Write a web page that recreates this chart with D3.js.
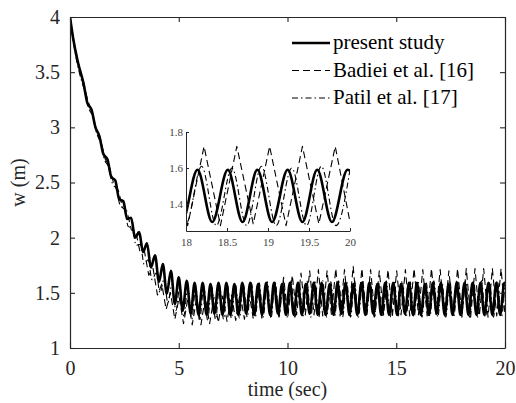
<!DOCTYPE html>
<html>
<head>
<meta charset="utf-8">
<script src="https://cdn.jsdelivr.net/npm/d3@7"></script>
</head>
<body style="margin:0">
<script>

// present study: extrema [t, w]
var presentStudy = [
	[0, 4.0], [0.15, 3.8], [0.35, 3.6],
	[0.62, 3.40], [0.80, 3.22], [0.99, 3.16], [1.17, 3.00], [1.35, 2.92], [1.53, 2.76],
	[1.72, 2.71], [1.90, 2.55], [2.08, 2.52], [2.26, 2.35], [2.45, 2.33], [2.63, 2.17],
	[2.81, 2.18], [2.99, 2.00], [3.18, 2.05], [3.36, 1.87], [3.54, 1.95], [3.72, 1.73],
	[3.91, 1.84], [4.09, 1.60], [4.27, 1.76], [4.45, 1.49], [4.64, 1.70], [4.82, 1.40],
	[5.00, 1.64], [5.18, 1.34], [5.37, 1.61], [5.55, 1.31],
	[5.73, 1.59], [5.91, 1.30], [6.10, 1.59], [6.28, 1.30], [6.46, 1.58], [6.64, 1.31],
	[6.83, 1.59], [7.01, 1.30], [7.19, 1.59], [7.37, 1.30], [7.56, 1.58], [7.74, 1.30],
	[7.92, 1.59], [8.10, 1.31], [8.29, 1.59], [8.47, 1.30], [8.65, 1.58], [8.83, 1.30],
	[9.02, 1.59], [9.20, 1.30], [9.38, 1.59], [9.56, 1.31], [9.75, 1.58], [9.93, 1.30],
	[10.11, 1.59], [10.29, 1.30], [10.48, 1.59], [10.66, 1.30], [10.84, 1.58], [11.02, 1.31],
	[11.21, 1.59], [11.39, 1.30], [11.57, 1.59], [11.75, 1.30], [11.94, 1.58], [12.12, 1.30],
	[12.30, 1.59], [12.48, 1.31], [12.67, 1.59], [12.85, 1.30], [13.03, 1.58], [13.21, 1.30],
	[13.40, 1.59], [13.58, 1.30], [13.76, 1.59], [13.94, 1.31], [14.13, 1.58], [14.31, 1.30],
	[14.49, 1.59], [14.67, 1.30], [14.86, 1.59], [15.04, 1.30], [15.22, 1.58], [15.40, 1.31],
	[15.59, 1.59], [15.77, 1.30], [15.95, 1.59], [16.13, 1.30], [16.32, 1.58], [16.50, 1.30],
	[16.68, 1.59], [16.86, 1.31], [17.05, 1.59], [17.23, 1.30], [17.41, 1.58], [17.59, 1.30],
	[17.78, 1.59], [17.95, 1.30], [18.14, 1.59], [18.32, 1.30], [18.51, 1.59], [18.69, 1.30],
	[18.87, 1.59], [19.05, 1.30], [19.24, 1.59], [19.42, 1.30], [19.60, 1.59], [19.78, 1.30],
	[19.97, 1.59], [20.0, 1.585]
];

// Badiei et al. [16]: corners of the saw-like dashed curve [t, w]
var badiei = [
	[0, 4.0], [0.2, 3.75], [0.42, 3.55],
	[0.62, 3.41], [0.82, 3.24], [1.02, 3.14], [1.22, 2.97], [1.42, 2.88], [1.62, 2.71],
	[1.82, 2.64], [2.02, 2.48], [2.22, 2.43], [2.42, 2.27], [2.62, 2.24], [2.82, 2.07],
	[3.02, 2.06], [3.22, 1.87], [3.42, 1.88], [3.62, 1.66], [3.82, 1.72], [4.02, 1.48],
	[4.22, 1.58], [4.42, 1.35], [4.62, 1.50], [4.82, 1.26], [5.02, 1.46], [5.22, 1.22],
	[5.42, 1.45], [5.62, 1.21], [5.82, 1.45], [6.02, 1.21], [6.22, 1.46], [6.42, 1.22],
	[6.62, 1.46], [6.82, 1.23], [7.02, 1.47], [7.22, 1.24], [7.42, 1.48], [7.62, 1.25],
	[7.82, 1.50], [8.02, 1.26], [8.22, 1.52], [8.42, 1.27], [8.62, 1.55], [8.82, 1.27],
	[9.02, 1.58], [9.22, 1.28], [9.42, 1.61], [9.62, 1.29], [9.82, 1.64], [10.02, 1.29],
	[10.22, 1.66], [10.42, 1.30], [10.62, 1.68], [10.82, 1.30], [11.02, 1.70], [11.22, 1.30],
	[11.42, 1.71], [11.62, 1.29], [11.82, 1.70], [12.02, 1.30], [12.22, 1.72], [12.42, 1.29],
	[12.62, 1.71], [12.82, 1.30], [13.02, 1.74], [13.22, 1.29], [13.42, 1.72], [13.62, 1.30],
	[13.82, 1.71], [14.02, 1.29], [14.22, 1.70], [14.42, 1.30], [14.62, 1.71], [14.82, 1.29],
	[15.02, 1.70], [15.22, 1.30], [15.42, 1.71], [15.62, 1.29], [15.82, 1.72], [16.02, 1.30],
	[16.22, 1.71], [16.42, 1.29], [16.62, 1.72], [16.82, 1.30], [17.02, 1.71], [17.22, 1.29],
	[17.42, 1.70], [17.62, 1.30], [17.82, 1.72], [18.02, 1.28], [18.22, 1.72], [18.42, 1.28],
	[18.62, 1.72], [18.82, 1.29], [19.02, 1.72], [19.22, 1.28], [19.42, 1.72], [19.62, 1.29],
	[19.82, 1.72], [20.0, 1.30]
];

// Patil et al. [17]: extrema of the dash-dot curve [t, w]
var patil = [
	[0, 4.0], [0.2, 3.72], [0.45, 3.48],
	[0.67, 3.33], [0.85, 3.18], [1.04, 3.10], [1.22, 2.95], [1.40, 2.86], [1.58, 2.71],
	[1.77, 2.64], [1.95, 2.49], [2.13, 2.44], [2.31, 2.29], [2.50, 2.26], [2.68, 2.10],
	[2.86, 2.09], [3.04, 1.93], [3.23, 1.94], [3.41, 1.76], [3.59, 1.80], [3.77, 1.62],
	[3.96, 1.68], [4.14, 1.50], [4.32, 1.62], [4.50, 1.41], [4.69, 1.58], [4.87, 1.34],
	[5.05, 1.56], [5.23, 1.29], [5.42, 1.55], [5.60, 1.26], [5.78, 1.55], [5.96, 1.25],
	[6.15, 1.55], [6.33, 1.25], [6.51, 1.56], [6.69, 1.26], [6.88, 1.56], [7.06, 1.26],
	[7.24, 1.57], [7.42, 1.27], [7.61, 1.57], [7.79, 1.27], [7.97, 1.58], [8.15, 1.28],
	[8.34, 1.59], [8.52, 1.28], [8.70, 1.59], [8.88, 1.28], [9.07, 1.60], [9.25, 1.28],
	[9.43, 1.60], [9.61, 1.28], [9.80, 1.61], [9.98, 1.28], [10.16, 1.61], [10.34, 1.28],
	[10.53, 1.60], [10.71, 1.29], [10.89, 1.61], [11.07, 1.28], [11.26, 1.60], [11.44, 1.28],
	[11.62, 1.61], [11.80, 1.28], [11.99, 1.60], [12.17, 1.29], [12.35, 1.61], [12.53, 1.28],
	[12.72, 1.60], [12.90, 1.28], [13.08, 1.61], [13.26, 1.28], [13.45, 1.60], [13.63, 1.29],
	[13.81, 1.61], [13.99, 1.28], [14.18, 1.60], [14.36, 1.28], [14.54, 1.61], [14.72, 1.28],
	[14.91, 1.60], [15.09, 1.29], [15.27, 1.61], [15.45, 1.28], [15.64, 1.60], [15.82, 1.28],
	[16.00, 1.61], [16.18, 1.28], [16.37, 1.60], [16.55, 1.29], [16.73, 1.61], [16.91, 1.28],
	[17.10, 1.60], [17.28, 1.28], [17.46, 1.61], [17.64, 1.28], [17.83, 1.60], [18.00, 1.29],
	[18.19, 1.61], [18.37, 1.28], [18.56, 1.60], [18.74, 1.28], [18.92, 1.61], [19.10, 1.28],
	[19.29, 1.60], [19.47, 1.28], [19.65, 1.61], [19.83, 1.28], [20.0, 1.59]
];

var legendNames = ["present study", "Badiei et al. [16]", "Patil et al. [17]"];

var xTicks = [0, 5, 10, 15, 20];
var yTicks = [1, 1.5, 2, 2.5, 3, 3.5, 4];
var insetXTicks = [18, 18.5, 19, 19.5, 20];
var insetYTicks = [1.4, 1.6, 1.8];

var W = 516, H = 403;
var ink = "#262626";
var fmt = function(d) { return String(d); };

var svg = d3.select("body").append("svg")
	.attr("width", W)
	.attr("height", H)
	.style("display", "block");

// every text gets its font from one helper
function serifText(sel, size) {
	return sel.attr("font-family", "Liberation Serif")
		.style("font-family", "'Liberation Serif'")
		.style("font-size", size + "px");
}

// main axes
var x = d3.scaleLinear().domain([0, 20]).range([70, 505]);
var y = d3.scaleLinear().domain([1, 4]).range([348, 17]);

var styles = [
	{ width: 2.6, dash: null, curve: d3.curveMonotoneX },
	{ width: 1.1, dash: "7,4", curve: d3.curveLinear },
	{ width: 1.1, dash: "6,3,1.5,3", curve: d3.curveMonotoneX }
];
var series = [presentStudy, badiei, patil];

// legend (no box), written first
var legend = svg.append("g");
legendNames.forEach(function(name, i) {
	var ly = 43 + i * 27.5;
	legend.append("line")
		.attr("x1", 292).attr("x2", 330)
		.attr("y1", ly).attr("y2", ly)
		.attr("stroke", "#000")
		.attr("stroke-width", i === 0 ? 2.4 : 1.1)
		.attr("stroke-dasharray", styles[i].dash);
	legend.append("text")
		.attr("x", 333).attr("y", ly + 6)
		.attr("fill", "#000")
		.call(serifText, 21)
		.text(name);
});

svg.append("text")
	.attr("x", x(10)).attr("y", 396)
	.attr("text-anchor", "middle")
	.attr("fill", ink)
	.call(serifText, 20)
	.text("time (sec)");

svg.append("text")
	.attr("transform", "translate(25," + y(2.5) + ") rotate(-90)")
	.attr("text-anchor", "middle")
	.attr("fill", ink)
	.call(serifText, 20)
	.text("w (m)");

svg.append("clipPath").attr("id", "main-clip")
	.append("rect")
	.attr("x", 70).attr("y", 17)
	.attr("width", 435).attr("height", 331);

var plot = svg.append("g").attr("clip-path", "url(#main-clip)");

// draw the two thin curves first so the thick one sits on top
[2, 1, 0].forEach(function(i) {
	var line = d3.line()
		.x(function(d) { return x(d[0]); })
		.y(function(d) { return y(d[1]); })
		.curve(styles[i].curve);
	plot.append("path")
		.attr("d", line(series[i]))
		.attr("fill", "none")
		.attr("stroke", "#000")
		.attr("stroke-width", styles[i].width)
		.attr("stroke-linejoin", "round")
		.attr("stroke-dasharray", styles[i].dash);
});

// box with inward ticks
function styleAxis(g) {
	g.attr("font-family", "Liberation Serif").attr("font-size", 20);
	g.select(".domain").attr("stroke", ink).attr("stroke-width", 1.2);
	g.selectAll(".tick line").attr("stroke", ink).attr("stroke-width", 1.1);
	g.selectAll(".tick text")
		.attr("fill", ink)
		.call(serifText, 20);
}

svg.append("g")
	.attr("transform", "translate(0,348)")
	.call(d3.axisBottom(x).tickValues(xTicks).tickFormat(fmt).tickSizeInner(-5).tickSizeOuter(0).tickPadding(13))
	.call(styleAxis);
svg.append("g")
	.attr("transform", "translate(0,17)")
	.call(d3.axisTop(x).tickValues(xTicks).tickSizeInner(-5).tickSizeOuter(0).tickFormat(""))
	.call(styleAxis);
svg.append("g")
	.attr("transform", "translate(70,0)")
	.call(d3.axisLeft(y).tickValues(yTicks).tickFormat(fmt).tickSizeInner(-5).tickSizeOuter(0).tickPadding(10))
	.call(styleAxis);
svg.append("g")
	.attr("transform", "translate(505,0)")
	.call(d3.axisRight(y).tickValues(yTicks).tickSizeInner(-5).tickSizeOuter(0).tickFormat(""))
	.call(styleAxis);

// inset zoom on 18-20 s
var ix = d3.scaleLinear().domain([18, 20]).range([186, 350]);
var iy = d3.scaleLinear().domain([1.25, 1.8]).range([231, 132]);

var inset = svg.append("g");
inset.append("rect")
	.attr("x", 186).attr("y", 132)
	.attr("width", 164).attr("height", 99)
	.attr("fill", "#fff");

inset.append("clipPath").attr("id", "inset-clip")
	.append("rect")
	.attr("x", 186).attr("y", 126)
	.attr("width", 164).attr("height", 105);

var insetPlot = inset.append("g").attr("clip-path", "url(#inset-clip)");
[2, 1, 0].forEach(function(i) {
	var line = d3.line()
		.x(function(d) { return ix(d[0]); })
		.y(function(d) { return iy(d[1]); })
		.curve(styles[i].curve);
	var part = series[i].filter(function(d) { return d[0] >= 17.5; });
	insetPlot.append("path")
		.attr("d", line(part))
		.attr("fill", "none")
		.attr("stroke", "#000")
		.attr("stroke-width", styles[i].width)
		.attr("stroke-linejoin", "round")
		.attr("stroke-dasharray", styles[i].dash);
});

function styleInset(g) {
	g.attr("font-family", null).attr("font-size", 11);
	g.select(".domain").attr("stroke", ink).attr("stroke-width", 1);
	g.selectAll(".tick line").attr("stroke", ink);
	g.selectAll(".tick text")
		.attr("fill", "#444")
		.style("font-size", "11px");
}

inset.append("g")
	.attr("transform", "translate(0,231)")
	.call(d3.axisBottom(ix).tickValues(insetXTicks).tickFormat(fmt).tickSizeInner(-3).tickSizeOuter(0).tickPadding(7))
	.call(styleInset);
inset.append("g")
	.attr("transform", "translate(186,0)")
	.call(d3.axisLeft(iy).tickValues(insetYTicks).tickFormat(fmt).tickSizeInner(-3).tickSizeOuter(0).tickPadding(3))
	.call(styleInset);

</script>
</body>
</html>
